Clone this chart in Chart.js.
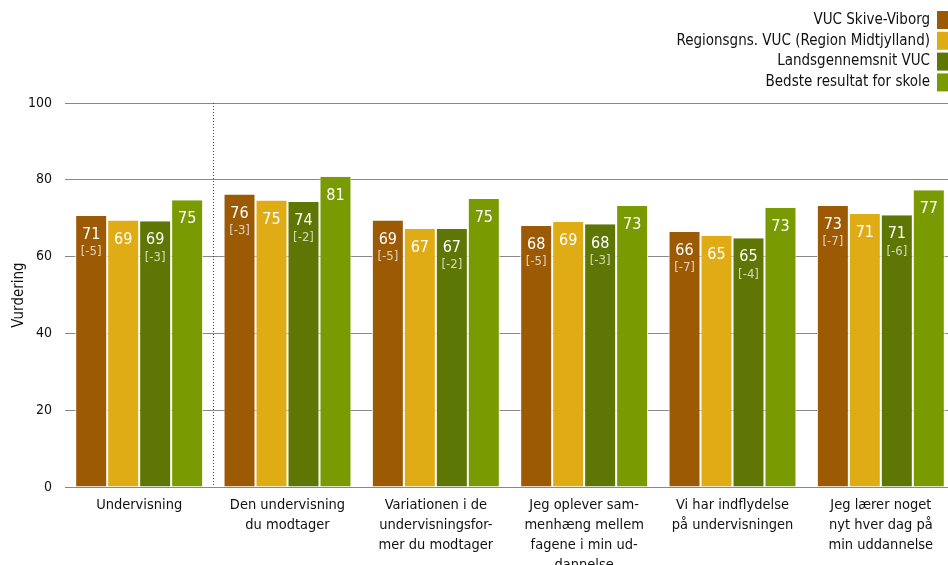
<!DOCTYPE html>
<html>
<head>
<meta charset="utf-8">
<script src="https://cdn.jsdelivr.net/npm/chart.js@4"></script>
<style>
  html, body { margin: 0; padding: 0; background: #fff; overflow: hidden; }
  #wrap { width: 956px; height: 565px; }
</style>
</head>
<body>
<div id="wrap"><canvas id="chart"></canvas></div>
<script>
// -- Data --
const categories = [
    ['Undervisning'],
    ['Den undervisning', 'du modtager'],
    ['Variationen i de', 'undervisningsfor-', 'mer du modtager'],
    ['Jeg oplever sam-', 'menhæng mellem', 'fagene i min ud-', 'dannelse'],
    ['Vi har indflydelse', 'på undervisningen'],
    ['Jeg lærer noget', 'nyt hver dag på', 'min uddannelse'],
];
const seriesNames = [
    'VUC Skive-Viborg',
    'Regionsgns. VUC (Region Midtjylland)',
    'Landsgennemsnit VUC',
    'Bedste resultat for skole',
];
const skiveViborg = [70.6, 76.2, 69.4, 68.0, 66.4, 73.2];
const regionSnit = [69.4, 74.6, 67.2, 69.0, 65.4, 71.1];
const landsSnit = [69.2, 74.2, 67.2, 68.4, 64.8, 70.8];
const bedsteSkole = [74.7, 80.8, 75.0, 73.2, 72.7, 77.3];
const skiveDiff = [-5, -3, -5, -5, -7, -7];
const landsDiff = [-3, -2, -2, -3, -4, -6];
const yTicks = [0, 20, 40, 60, 80, 100];

const COLORS = ['#9c5a05', '#e0ac16', '#5e7603', '#7a9a01'];
const FONT = "'DejaVu Sans Condensed', 'Liberation Sans', sans-serif";

Chart.defaults.font.family = FONT;
Chart.defaults.color = '#111';
Chart.defaults.animation = false;

// value + [diff] labels inside the bars
const barLabels = {
    id: 'barLabels',
    afterDatasetsDraw(chart) {
        const ctx = chart.ctx;
        ctx.save();
        ctx.textAlign = 'center';
        ctx.textBaseline = 'middle';
        chart.data.datasets.forEach((ds, i) => {
            chart.getDatasetMeta(i).data.forEach((bar, j) => {
                ctx.fillStyle = '#fff';
                ctx.font = '16px ' + FONT;
                ctx.fillText(String(Math.round(ds.data[j])), bar.x, bar.y + 19);
                if (ds.diffs) {
                    ctx.fillStyle = 'rgba(255,255,255,0.72)';
                    ctx.font = '13px ' + FONT;
                    ctx.fillText('[' + ds.diffs[j] + ']', bar.x, bar.y + 36);
                }
            });
        });
        ctx.restore();
    },
};

// dotted separator after first category
const separator = {
    id: 'separator',
    beforeDatasetsDraw(chart) {
        const { ctx, chartArea } = chart;
        const xs = chart.scales.x;
        const x = Math.round((xs.getPixelForValue(0) + xs.getPixelForValue(1)) / 2) + 0.5;
        ctx.save();
        ctx.strokeStyle = '#444';
        ctx.lineWidth = 1;
        ctx.setLineDash([1, 2]);
        ctx.beginPath();
        ctx.moveTo(x, chartArea.top);
        ctx.lineTo(x, chartArea.bottom);
        ctx.stroke();
        ctx.restore();
    },
};

// legend top right, box to the right of the text
const rightLegend = {
    id: 'rightLegend',
    afterDraw(chart) {
        const ctx = chart.ctx;
        ctx.save();
        ctx.font = '15px ' + FONT;
        ctx.textAlign = 'right';
        ctx.textBaseline = 'middle';
        chart.data.datasets.forEach((ds, i) => {
            const cy = 20 + i * 20.8;
            ctx.fillStyle = '#111';
            ctx.fillText(ds.label, 930, cy);
            ctx.fillStyle = ds.backgroundColor;
            ctx.fillRect(937, cy - 9, 12, 18);
        });
        ctx.restore();
    },
};

const seriesData = [skiveViborg, regionSnit, landsSnit, bedsteSkole];
const seriesDiffs = [skiveDiff, null, landsDiff, null];

new Chart(document.getElementById('chart'), {
    type: 'bar',
    data: {
        labels: categories,
        datasets: seriesNames.map((name, i) => ({
            label: name,
            data: seriesData[i],
            diffs: seriesDiffs[i],
            backgroundColor: COLORS[i],
            borderColor: '#fff',
            borderWidth: { left: 1, right: 1, top: 0, bottom: 0 },
            borderSkipped: false,
            barPercentage: 1,
            categoryPercentage: 0.8625,
        })),
    },
    options: {
        responsive: true,
        maintainAspectRatio: false,
        layout: { padding: { top: 103, right: 1, left: 10, bottom: 0 } },
        plugins: {
            legend: { display: false },
            tooltip: { enabled: false },
        },
        scales: {
            x: {
                grid: { display: false },
                border: { display: false },
                ticks: {
                    font: { size: 14.5, lineHeight: 1.38 },
                    color: '#111',
                    padding: 0,
                    maxRotation: 0,
                    autoSkip: false,
                },
                afterFit: (s) => { s.height = 78; },
            },
            y: {
                min: 0,
                max: 100,
                afterBuildTicks: (s) => { s.ticks = yTicks.map((v) => ({ value: v })); },
                grid: { color: '#888', lineWidth: 1, drawTicks: false },
                border: { display: false },
                ticks: { font: { size: 14 }, color: '#111', padding: 13 },
                title: {
                    display: true,
                    text: 'Vurdering',
                    font: { size: 15, lineHeight: 1.2 },
                    color: '#111',
                    padding: { top: 0, bottom: 0 },
                },
                afterFit: (s) => { s.width = 55; },
            },
        },
    },
    plugins: [barLabels, separator, rightLegend],
});
</script>
</body>
</html>
